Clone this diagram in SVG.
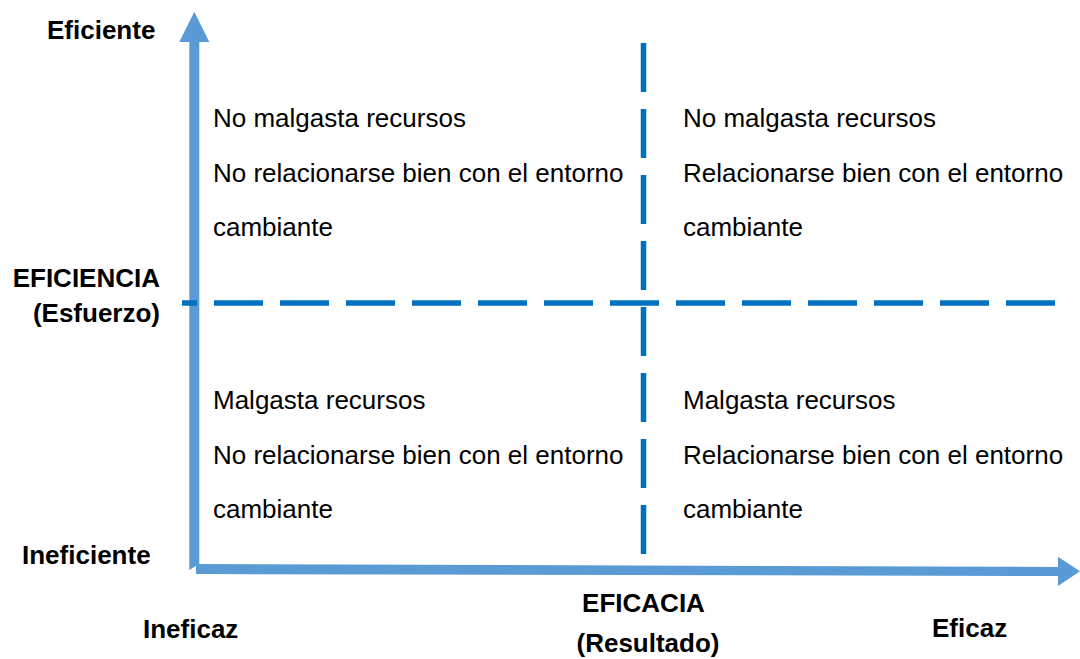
<svg xmlns="http://www.w3.org/2000/svg" width="1080" height="659" viewBox="0 0 1080 659">
<style>
.t{font-family:"Liberation Sans",Arial,sans-serif;font-size:26px;fill:#000}
.b{font-family:"Liberation Sans",Arial,sans-serif;font-size:26px;font-weight:bold;fill:#000}
.axis{fill:#5B9BD5}
.dash{stroke:#0070C0;stroke-width:5.5;fill:none;stroke-dasharray:49 17}
</style>
<rect width="1080" height="659" fill="#fff"/>
<g id="connectors">
<polygon class="axis" points="189.3,570 189.3,42 179.3,42 194.3,11.7 209.3,42 199.3,42 199.3,564"/>
<polygon class="axis" points="196,564 1058,567 1058,556.7 1080,571.3 1058,586 1058,576 196,574"/>
<path class="dash" d="M643.5 43V555"/>
<path class="dash" d="M182 303H1056" stroke-dashoffset="34"/>
</g>
<g id="axis-labels">
<text class="b" x="47" y="39">Eficiente</text>
<text class="b" x="160" y="287" text-anchor="end">EFICIENCIA</text>
<text class="b" x="160" y="322" text-anchor="end">(Esfuerzo)</text>
<text class="b" x="22" y="564">Ineficiente</text>
<text class="b" x="143" y="638">Ineficaz</text>
<text class="b" x="643.5" y="612" text-anchor="middle">EFICACIA</text>
<text class="b" x="648" y="652" text-anchor="middle">(Resultado)</text>
<text class="b" x="932" y="637">Eficaz</text>
</g>
<g id="q-top-left">
<text class="t" x="213" y="127">No malgasta recursos</text>
<text class="t" x="213" y="181.5">No relacionarse bien con el entorno</text>
<text class="t" x="213" y="236">cambiante</text>
</g>
<g id="q-top-right">
<text class="t" x="683" y="127">No malgasta recursos</text>
<text class="t" x="683" y="181.5">Relacionarse bien con el entorno</text>
<text class="t" x="683" y="236">cambiante</text>
</g>
<g id="q-bottom-left">
<text class="t" x="213" y="409">Malgasta recursos</text>
<text class="t" x="213" y="464">No relacionarse bien con el entorno</text>
<text class="t" x="213" y="518">cambiante</text>
</g>
<g id="q-bottom-right">
<text class="t" x="683" y="409">Malgasta recursos</text>
<text class="t" x="683" y="464">Relacionarse bien con el entorno</text>
<text class="t" x="683" y="518">cambiante</text>
</g>
</svg>
